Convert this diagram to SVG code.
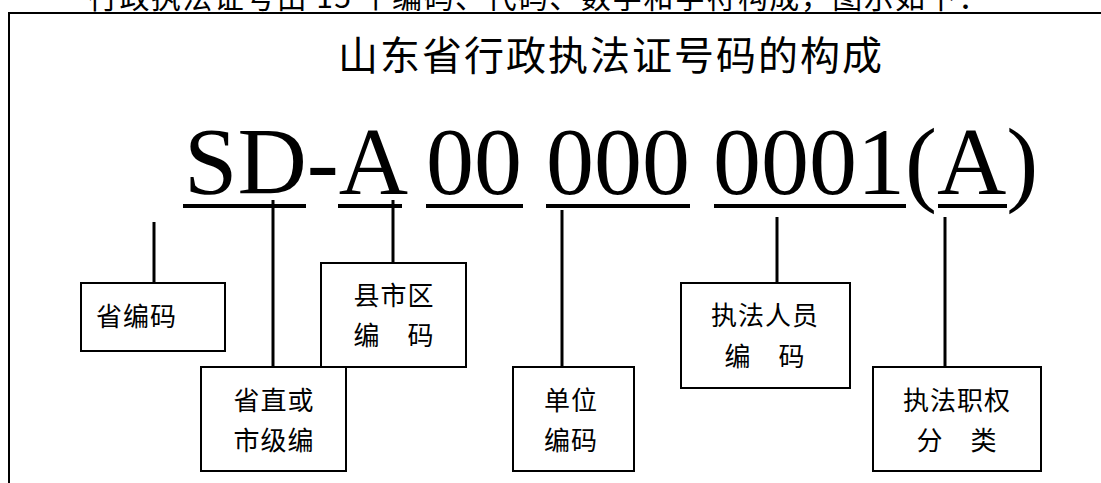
<svg xmlns="http://www.w3.org/2000/svg" width="1101" height="483" viewBox="0 0 1101 483">
<style>
.cjk{font-family:"Noto Sans CJK SC","Noto Sans CJK JP",sans-serif;fill:#000}
.lbl{font-size:26px;letter-spacing:1px;text-anchor:middle}
.big{font-family:"Liberation Serif","Times New Roman",serif;font-size:96px;fill:#000}
.box{fill:#fff;stroke:#000;stroke-width:2}
.ul{stroke:#000;stroke-width:4}
.con line{stroke:#000;stroke-width:3}
.frame{stroke:#000;stroke-width:2;fill:none}
</style>
<rect width="1101" height="483" fill="#fff"/>
<text class="cjk" x="88" y="8" font-size="30" textLength="900" lengthAdjust="spacing">行政执法证号由 15 个编码、代码、数字和字符构成，图示如下：</text>
<path class="frame" d="M9,483 V13 H1101"/>
<text class="cjk" x="338" y="70" font-size="40" letter-spacing="2">山东省行政执法证号码的构成</text>
<g id="code">
<text class="big" x="184" y="194">SD-A</text>
<text class="big" x="426" y="194">00</text>
<text class="big" x="546" y="194">000</text>
<text class="big" x="713" y="194">0001(A)</text>
<line class="ul" x1="183" y1="206" x2="306" y2="206"/>
<line class="ul" x1="338" y1="206" x2="402" y2="206"/>
<line class="ul" x1="426" y1="206" x2="523" y2="206"/>
<line class="ul" x1="546" y1="206" x2="690" y2="206"/>
<line class="ul" x1="714" y1="206" x2="906" y2="206"/>
<line class="ul" x1="938" y1="206" x2="1007" y2="206"/>
</g>
<g id="connectors" class="con">
<line x1="154" y1="222" x2="154" y2="283"/>
<line x1="273" y1="200" x2="273" y2="367"/>
<line x1="393" y1="200" x2="393" y2="263"/>
<line x1="562" y1="210" x2="562" y2="367"/>
<line x1="777" y1="217" x2="777" y2="283"/>
<line x1="945" y1="217" x2="945" y2="367"/>
</g>
<g id="node-province">
<rect class="box" x="81" y="283" width="144" height="68"/>
<text class="cjk" x="96" y="326" font-size="26" letter-spacing="1">省编码</text>
</g>
<g id="node-city">
<rect class="box" x="201" y="367" width="145" height="104"/>
<text class="cjk lbl" x="274" y="410">省直或</text>
<text class="cjk lbl" x="274" y="450">市级编</text>
</g>
<g id="node-county">
<rect class="box" x="321" y="263" width="145" height="104"/>
<text class="cjk lbl" x="394" y="305">县市区</text>
<text class="cjk lbl" x="394" y="345">编　码</text>
</g>
<g id="node-unit">
<rect class="box" x="513" y="367" width="121" height="104"/>
<text class="cjk lbl" x="571" y="410">单位</text>
<text class="cjk lbl" x="571" y="450">编码</text>
</g>
<g id="node-staff">
<rect class="box" x="681" y="283" width="169" height="105"/>
<text class="cjk lbl" x="765" y="325">执法人员</text>
<text class="cjk lbl" x="765" y="366">编　码</text>
</g>
<g id="node-duty">
<rect class="box" x="873" y="367" width="168" height="104"/>
<text class="cjk lbl" x="957" y="410">执法职权</text>
<text class="cjk lbl" x="957" y="450">分　类</text>
</g>
</svg>
